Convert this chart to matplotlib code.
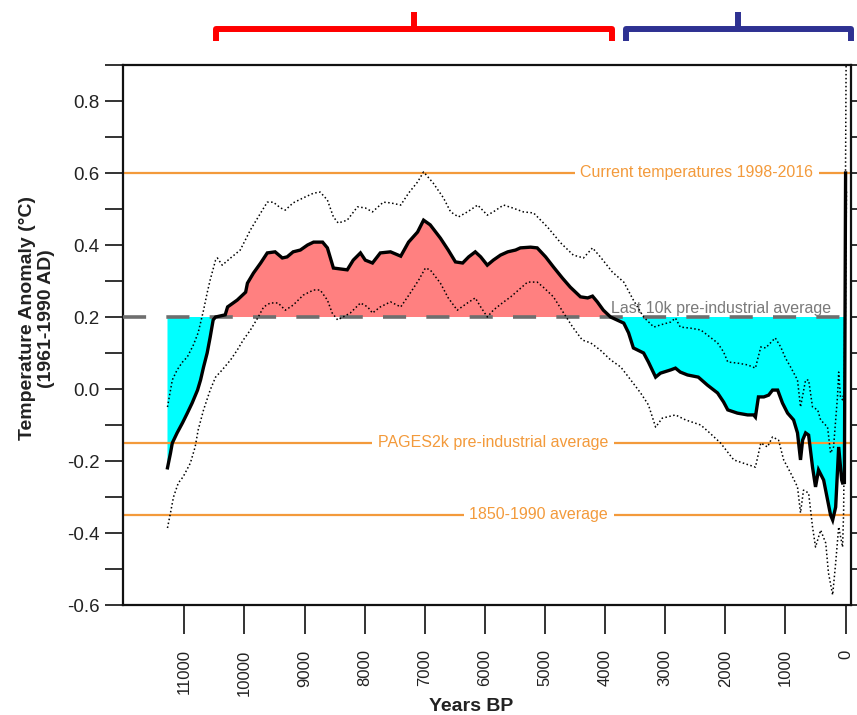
import matplotlib
matplotlib.use("Agg")
import matplotlib.pyplot as plt
import numpy as np
from matplotlib.transforms import blended_transform_factory

plt.rcParams["font.family"] = ["Liberation Sans", "DejaVu Sans"]

# Holocene temperature reconstruction (years before present, anomaly in °C)
mean_years = [11280, 11230, 11200, 11120, 11030, 10950, 10870, 10780, 10730, 10680,
              10620, 10570, 10520, 10480, 10320, 10280, 10120, 9980, 9950, 9850,
              9730, 9620, 9490, 9370, 9290, 9190, 9070, 8950, 8850, 8700,
              8620, 8520, 8290, 8190, 8070, 7990, 7870, 7740, 7570, 7400,
              7270, 7120, 7020, 6910, 6740, 6610, 6490, 6370, 6270, 6160,
              6070, 5960, 5860, 5740, 5620, 5490, 5410, 5240, 5130, 4990,
              4860, 4710, 4580, 4410, 4290, 4210, 4130, 4030, 3910, 3690,
              3610, 3530, 3360, 3280, 3160, 3080, 2910, 2830, 2750, 2630,
              2450, 2300, 2130, 2030, 1960, 1800, 1630, 1530, 1500, 1450,
              1360, 1280, 1215, 1130, 1050, 965, 865, 800, 750, 715,
              665, 615, 550, 500, 450, 365, 250, 215, 165, 115,
              65, 50, 20, 0]
mean_temp = [-0.219, -0.178, -0.150, -0.122, -0.094, -0.067, -0.039, -0.003, 0.025, 0.061,
             0.100, 0.144, 0.192, 0.200, 0.206, 0.228, 0.247, 0.269, 0.294, 0.322,
             0.350, 0.378, 0.381, 0.364, 0.367, 0.381, 0.386, 0.400, 0.408, 0.408,
             0.392, 0.336, 0.331, 0.358, 0.378, 0.358, 0.350, 0.378, 0.381, 0.369,
             0.408, 0.436, 0.469, 0.456, 0.419, 0.386, 0.353, 0.350, 0.367, 0.381,
             0.367, 0.344, 0.358, 0.372, 0.381, 0.386, 0.392, 0.394, 0.392, 0.367,
             0.339, 0.308, 0.283, 0.256, 0.253, 0.258, 0.242, 0.219, 0.200, 0.183,
             0.156, 0.114, 0.100, 0.075, 0.033, 0.044, 0.053, 0.058, 0.047, 0.039,
             0.033, 0.011, -0.011, -0.036, -0.058, -0.067, -0.072, -0.072, -0.078, -0.022,
             -0.022, -0.017, -0.003, -0.003, -0.039, -0.067, -0.086, -0.122, -0.197, -0.142,
             -0.122, -0.128, -0.217, -0.272, -0.225, -0.253, -0.350, -0.364, -0.328, -0.161,
             -0.253, -0.261, -0.260, 0.600]

upper_years = [11280, 11200, 11120, 11030, 10950, 10850, 10770, 10680, 10620, 10570,
               10480, 10450, 10370, 10230, 10070, 9900, 9730, 9620, 9520, 9400,
               9320, 9190, 9020, 8850, 8740, 8620, 8520, 8440, 8290, 8120,
               7990, 7870, 7690, 7570, 7400, 7270, 7120, 7020, 6860, 6690,
               6570, 6440, 6290, 6120, 5960, 5860, 5690, 5540, 5360, 5190,
               4960, 4740, 4530, 4360, 4210, 4080, 3880, 3690, 3530, 3360,
               3190, 3080, 2910, 2830, 2750, 2580, 2410, 2300, 2130, 2030,
               1960, 1800, 1630, 1500, 1410, 1330, 1250, 1170, 1080, 1000,
               915, 800, 750, 665, 615, 550, 465, 415, 300, 250,
               200, 135, 115, 85, 50, 20, -10]
upper_temp = [-0.050, 0.025, 0.053, 0.075, 0.089, 0.122, 0.156, 0.219, 0.267, 0.303,
              0.358, 0.364, 0.344, 0.364, 0.386, 0.442, 0.489, 0.519, 0.519, 0.503,
              0.497, 0.517, 0.531, 0.544, 0.547, 0.525, 0.478, 0.461, 0.469, 0.506,
              0.503, 0.492, 0.519, 0.517, 0.511, 0.544, 0.575, 0.603, 0.572, 0.531,
              0.492, 0.478, 0.492, 0.511, 0.483, 0.492, 0.511, 0.503, 0.492, 0.489,
              0.450, 0.406, 0.372, 0.364, 0.392, 0.367, 0.325, 0.297, 0.247, 0.200,
              0.172, 0.178, 0.186, 0.197, 0.172, 0.169, 0.164, 0.150, 0.128, 0.103,
              0.075, 0.072, 0.067, 0.058, 0.117, 0.114, 0.128, 0.142, 0.117, 0.086,
              0.061, 0.025, -0.050, 0.025, 0.025, -0.050, -0.058, -0.086, -0.106, -0.178,
              -0.161, -0.022, 0.047, -0.022, -0.030, 0.000, 0.950]

lower_years = [11280, 11230, 11180, 11100, 11020, 10900, 10820, 10770, 10680, 10570,
               10480, 10370, 10230, 10120, 10020, 9900, 9780, 9680, 9570, 9440,
               9320, 9190, 9020, 8850, 8740, 8620, 8540, 8450, 8240, 8070,
               7950, 7870, 7740, 7570, 7400, 7240, 7100, 6990, 6910, 6740,
               6610, 6460, 6290, 6160, 6070, 5960, 5860, 5710, 5570, 5440,
               5290, 5130, 5030, 4860, 4690, 4540, 4380, 4240, 4080, 3910,
               3740, 3610, 3410, 3280, 3160, 3050, 2830, 2660, 2410, 2280,
               2080, 1860, 1700, 1500, 1410, 1300, 1215, 1115, 1030, 915,
               800, 750, 700, 615, 550, 500, 415, 330, 285, 215,
               165, 115, 50, 33, -15]
lower_temp = [-0.386, -0.344, -0.300, -0.261, -0.244, -0.206, -0.161, -0.114, -0.058, -0.003,
              0.033, 0.053, 0.081, 0.108, 0.136, 0.164, 0.197, 0.228, 0.239, 0.239,
              0.219, 0.233, 0.261, 0.275, 0.275, 0.247, 0.211, 0.192, 0.211, 0.239,
              0.228, 0.211, 0.228, 0.242, 0.228, 0.267, 0.303, 0.336, 0.331, 0.294,
              0.253, 0.219, 0.239, 0.253, 0.228, 0.200, 0.219, 0.239, 0.256, 0.275,
              0.297, 0.297, 0.283, 0.256, 0.211, 0.172, 0.136, 0.128, 0.108, 0.081,
              0.061, 0.033, -0.011, -0.044, -0.106, -0.081, -0.072, -0.086, -0.100, -0.119,
              -0.150, -0.197, -0.206, -0.217, -0.150, -0.161, -0.133, -0.142, -0.197, -0.233,
              -0.272, -0.344, -0.281, -0.289, -0.383, -0.439, -0.392, -0.428, -0.511, -0.572,
              -0.483, -0.383, -0.439, -0.344, 0.550]

holocene_avg = 0.2
holocene_label = "Last 10k pre-industrial average"
ref_values = [0.6, -0.15, -0.35]
ref_labels = ["Current temperatures 1998-2016", "PAGES2k pre-industrial average", "1850-1990 average"]
ref_label_x = [540, 3950, 3950]

x_ticks = list(range(0, 12000, 1000))
y_major = [-0.6, -0.4, -0.2, 0.0, 0.2, 0.4, 0.6, 0.8]
y_minor = [-0.5, -0.3, -0.1, 0.1, 0.3, 0.5, 0.7, 0.9]

# periods marked by braces above the plot: (start, end, colour)
periods = [(10470, 3880, "#FF0000"), (3650, -85, "#2E3192")]

ORANGE = "#F39A3B"
GREY = "#6E6E6E"
TXT = "#222222"

fig = plt.figure(figsize=(8.57, 7.15), dpi=100)
ax = fig.add_axes([123 / 857, 1 - 605 / 715, 728 / 857, 540 / 715])

y = np.array(mean_temp)
x = np.array(mean_years)
ax.fill_between(x, y, holocene_avg, where=y >= holocene_avg, interpolate=True,
                color="#FF8080", lw=0, zorder=1)
ax.fill_between(x, y, holocene_avg, where=y <= holocene_avg, interpolate=True,
                color="#00FFFF", lw=0, zorder=1)

for val, lab, lx in zip(ref_values, ref_labels, ref_label_x):
    ax.axhline(val, color=ORANGE, lw=1.6, zorder=2)
    ax.text(lx, val, lab, color=ORANGE, fontsize=11.5, ha="right", va="center",
            bbox=dict(fc="white", ec="none", pad=4), zorder=3)

ax.axhline(holocene_avg, color=GREY, lw=2.6, dashes=(6.4, 5.6), zorder=4)
ax.text(3900, holocene_avg + 0.01, holocene_label, color="#7A7A7A",
        fontsize=11.5, ha="left", va="baseline", zorder=4)

dot = (0, (1.0, 1.6))
ax.plot(upper_years, upper_temp, color="black", lw=1.1, linestyle=dot, zorder=5)
ax.plot(lower_years, lower_temp, color="black", lw=1.1, linestyle=dot, zorder=5)
ax.plot(mean_years, mean_temp, color="black", lw=2.4, zorder=6,
        solid_joinstyle="miter")

ax.set_xlim(12020, -90)
ax.set_ylim(-0.6, 0.9)

ax.set_xticks(x_ticks)
ax.set_xticklabels([str(t) for t in x_ticks], rotation=90)
ax.set_yticks(y_major)
ax.set_yticklabels([f"{v:.1f}" for v in y_major])
ax.set_yticks(y_minor, minor=True)

ax.tick_params(axis="x", direction="out", length=21, width=1.4, color="#333333",
               labelsize=12, labelcolor=TXT, pad=11)
ax.tick_params(axis="y", which="both", direction="out", length=13, width=1.4,
               color="#333333", labelsize=13.5, labelcolor=TXT, pad=4, right=True)

for s in ax.spines.values():
    s.set_linewidth(1.6)
    s.set_color("#111111")

ax.set_xlabel("Years BP", fontsize=14, fontweight="bold", color=TXT)
ax.xaxis.set_label_coords(0.478, -0.172)
ax.set_ylabel("Temperature Anomaly (°C)\n(1961-1990 AD)", fontsize=14,
              fontweight="bold", color=TXT, linespacing=1.15)
ax.yaxis.set_label_coords(-0.094, 0.531)

# braces above the axes
trans = blended_transform_factory(ax.transData, fig.transFigure)
y_bar = 1 - 29 / 715
y_leg = 1 - 41 / 715
y_nub = 1 - 12 / 715
for start, end, col in periods:
    mid = (start + end) / 2
    ax.plot([start, start, end, end], [y_leg, y_bar, y_bar, y_leg], color=col,
            lw=4.3, transform=trans, clip_on=False, solid_joinstyle="round",
            solid_capstyle="butt")
    ax.plot([mid, mid], [y_bar, y_nub], color=col, lw=4.3, transform=trans,
            clip_on=False, solid_capstyle="butt")

fig.savefig("out.png", dpi=100)
